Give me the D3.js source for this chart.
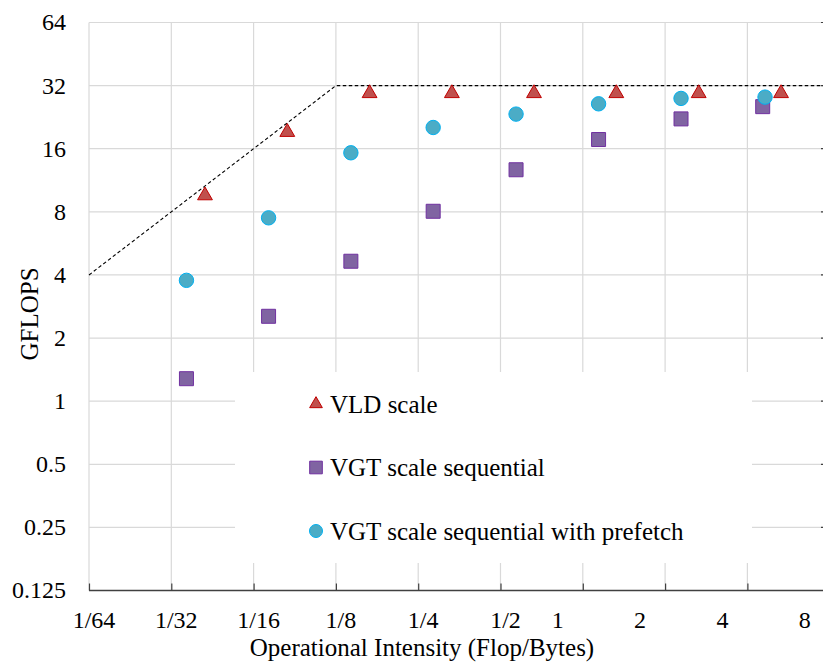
<!DOCTYPE html>
<html>
<head>
<meta charset="utf-8">
<script src="https://cdn.jsdelivr.net/npm/d3@7"></script>
<style>
    body { margin: 0; background: #fff; }
</style>
</head>
<body>
<div id="roofline"></div>
<script>

// roofline model: memory bound slope up to the ridge, then compute peak
var roofX = [1/64, 1/8, 8];
var roofY = [4, 32, 32];

// measured kernels
var vldX = [0.0415, 0.083, 0.166, 0.332, 0.663, 1.326, 2.654, 5.31];
var vldY = [9.57, 19.2, 29.4, 29.4, 29.4, 29.4, 29.4, 29.4];

var seqX = [0.0355, 0.0709, 0.1418, 0.2836, 0.570, 1.142, 2.287, 4.55];
var seqY = [1.28, 2.54, 4.65, 8.05, 12.7, 17.7, 22.2, 25.4];

var preX = [0.0355, 0.0709, 0.1418, 0.2836, 0.570, 1.142, 2.287, 4.64];
var preY = [3.77, 7.49, 15.3, 20.2, 23.4, 26.2, 27.8, 28.2];

var xTicks = [1/64, 1/32, 1/16, 1/8, 1/4, 1/2, 1, 2, 4, 8];
var xTickLabels = ["1/64", "1/32", "1/16", "1/8", "1/4", "1/2", "1", "2", "4", "8"];
var yTicks = [0.125, 0.25, 0.5, 1, 2, 4, 8, 16, 32, 64];

var seriesNames = ["VLD scale", "VGT scale sequential", "VGT scale sequential with prefetch"];

var width = 823, height = 663;
var plot = {left: 89, right: 829.7, top: 22.5, bottom: 590.5};
var serif = "Liberation Serif";

var x = d3.scaleLog().base(2).domain([1/64, 8]).range([plot.left, plot.right]);
var y = d3.scaleLog().base(2).domain([0.125, 64]).range([plot.bottom, plot.top]);

var svg = d3.select("#roofline").append("svg")
    .attr("width", width)
    .attr("height", height);

function label(sel, size) {
    return sel.attr("font-family", serif)
        .attr("font-size", size)
        .attr("fill", "#000");
}

// grid
svg.append("g").selectAll("line.vgrid")
    .data(xTicks)
    .enter().append("line")
    .attr("x1", function(d) { return x(d); })
    .attr("x2", function(d) { return x(d); })
    .attr("y1", plot.top)
    .attr("y2", plot.bottom)
    .attr("stroke", "#d9d9d9")
    .attr("stroke-width", 1.2);

svg.append("g").selectAll("line.hgrid")
    .data(yTicks.slice(1))
    .enter().append("line")
    .attr("x1", plot.left)
    .attr("x2", width)
    .attr("y1", function(d) { return y(d); })
    .attr("y2", function(d) { return y(d); })
    .attr("stroke", "#d9d9d9")
    .attr("stroke-width", 1.2);

// small ticks on the right edge
svg.append("g").selectAll("line.rtick")
    .data(yTicks.slice(1))
    .enter().append("line")
    .attr("x1", width - 2)
    .attr("x2", width)
    .attr("y1", function(d) { return y(d); })
    .attr("y2", function(d) { return y(d); })
    .attr("stroke", "#404040")
    .attr("stroke-width", 1.2);

// bottom axis with inward ticks
var xAxis = d3.axisBottom(x)
    .tickValues(xTicks)
    .tickSizeInner(-7)
    .tickSizeOuter(0)
    .tickFormat("");

var gx = svg.append("g")
    .attr("transform", "translate(0," + plot.bottom + ")")
    .call(xAxis);
gx.select(".domain").attr("stroke", "#404040").attr("stroke-width", 1.5)
    .attr("d", "M" + plot.left + ",0H" + width);
gx.selectAll(".tick line").attr("stroke", "#404040").attr("stroke-width", 1.2);

// x tick labels sit a little off their grid lines
svg.append("g").selectAll("text.xlab")
    .data(xTicks)
    .enter().append("text")
    .attr("x", function(d) { return x(d) + (d < 1 ? 5 : -25); })
    .attr("y", 628)
    .attr("text-anchor", "middle")
    .call(label, 24)
    .text(function(d, i) { return xTickLabels[i]; });

svg.append("g").selectAll("text.ylab")
    .data(yTicks)
    .enter().append("text")
    .attr("x", 66)
    .attr("y", function(d) { return y(d); })
    .attr("dy", "0.33em")
    .attr("text-anchor", "end")
    .call(label, 24)
    .text(function(d) { return d; });

svg.append("text")
    .attr("x", 422)
    .attr("y", 656)
    .attr("text-anchor", "middle")
    .call(label, 25)
    .text("Operational Intensity (Flop/Bytes)");

svg.append("text")
    .attr("transform", "translate(38,314) rotate(-90)")
    .attr("text-anchor", "middle")
    .call(label, 25)
    .text("GFLOPS");

// roofline
var roof = d3.line()
    .x(function(d) { return x(d[0]); })
    .y(function(d) { return y(d[1]); });

svg.append("path")
    .datum(d3.zip(roofX, roofY))
    .attr("d", roof)
    .attr("fill", "none")
    .attr("stroke", "#000")
    .attr("stroke-width", 1.1)
    .attr("stroke-dasharray", "3.5,2.5");

// markers
var tri = d3.symbol().type(d3.symbolTriangle).size(95);
var sq = d3.symbol().type(d3.symbolSquare).size(196);

var styles = [
    {fill: "#c0504d", stroke: "#c00000", path: tri},
    {fill: "#8064a2", stroke: "#7030a0", path: sq},
    {fill: "#4bacc6", stroke: "#00b0f0", path: null}
];

function drawSeries(xs, ys, st) {
    var pts = d3.zip(xs, ys);
    var g = svg.append("g");
    if (st.path) {
        g.selectAll("path")
            .data(pts)
            .enter().append("path")
            .attr("d", st.path)
            .attr("transform", function(d) { return "translate(" + x(d[0]) + "," + y(d[1]) + ")"; })
            .attr("fill", st.fill)
            .attr("stroke", st.stroke)
            .attr("stroke-width", 1);
    } else {
        g.selectAll("circle")
            .data(pts)
            .enter().append("circle")
            .attr("cx", function(d) { return x(d[0]); })
            .attr("cy", function(d) { return y(d[1]); })
            .attr("r", 7.2)
            .attr("fill", st.fill)
            .attr("stroke", st.stroke)
            .attr("stroke-width", 1);
    }
}

drawSeries(vldX, vldY, styles[0]);
drawSeries(seqX, seqY, styles[1]);
drawSeries(preX, preY, styles[2]);

// legend
var legend = svg.append("g");
legend.append("rect")
    .attr("x", 235)
    .attr("y", 372)
    .attr("width", 517)
    .attr("height", 191)
    .attr("fill", "#fff");

var rows = legend.selectAll("g.row")
    .data(seriesNames)
    .enter().append("g")
    .attr("transform", function(d, i) { return "translate(316," + (404 + i * 63.5) + ")"; });

rows.each(function(d, i) {
    var row = d3.select(this);
    var st = styles[i];
    if (st.path) {
        row.append("path")
            .attr("d", i === 0 ? d3.symbol().type(d3.symbolTriangle).size(70)() : d3.symbol().type(d3.symbolSquare).size(160)())
            .attr("fill", st.fill)
            .attr("stroke", st.stroke)
            .attr("stroke-width", 1);
    } else {
        row.append("circle")
            .attr("r", 6.5)
            .attr("fill", st.fill)
            .attr("stroke", st.stroke)
            .attr("stroke-width", 1);
    }
    row.append("text")
        .attr("x", 14)
        .attr("dy", "0.35em")
        .call(label, 25)
        .text(d);
});

</script>
</body>
</html>
